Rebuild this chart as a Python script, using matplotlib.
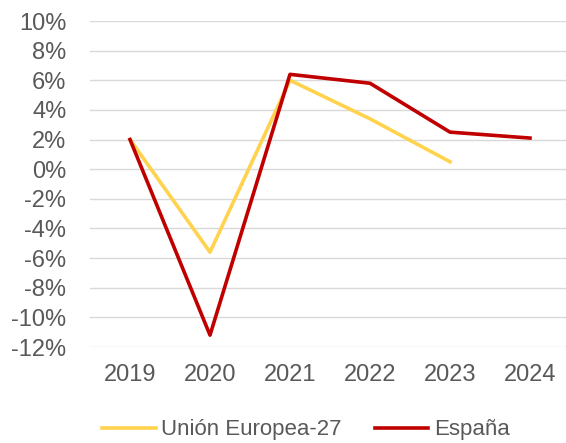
import numpy as np
import matplotlib.pyplot as plt
from matplotlib.ticker import FuncFormatter

plt.rcParams['font.family'] = ['Liberation Sans', 'DejaVu Sans']

years = ['2019', '2020', '2021', '2022', '2023', '2024']
eu27 = [2.0, -5.6, 6.0, 3.4, 0.5]
espana = [2.0, -11.2, 6.4, 5.8, 2.5, 2.1]

color_eu = '#FFD34E'
color_es = '#C00000'
text_color = '#595959'

fig = plt.figure(figsize=(5.66, 4.43), dpi=100)
ax = fig.add_axes([90/566, 1 - 347/443, 480/566, 326/443])

ax.plot(np.arange(len(eu27)), eu27, color=color_eu, lw=2.6, label='Unión Europea-27', zorder=3)
ax.plot(np.arange(len(espana)), espana, color=color_es, lw=2.6, label='España', zorder=4)

ax.set_xlim(-0.5, len(years) - 0.5)
ax.set_ylim(-12, 10)
ax.set_yticks(np.arange(-12, 11, 2))
ax.yaxis.set_major_formatter(FuncFormatter(lambda v, p: '%d%%' % v))
ax.set_xticks(np.arange(len(years)))
ax.set_xticklabels(years)
ax.grid(axis='y', color='#D9D9D9', lw=1.0)
ax.set_axisbelow(True)
for s in ax.spines.values():
    s.set_visible(False)
ax.tick_params(axis='both', length=0, labelsize=17, colors=text_color)
ax.tick_params(axis='y', pad=17)
ax.tick_params(axis='x', pad=12)

leg = fig.legend(loc='center', bbox_to_anchor=(306/566, 1 - 430/443), ncol=2, frameon=False,
                 fontsize=16, handlelength=2.4, handletextpad=0.25, columnspacing=1.5)
for t in leg.get_texts():
    t.set_color(text_color)

fig.savefig('out.png', dpi=100)
